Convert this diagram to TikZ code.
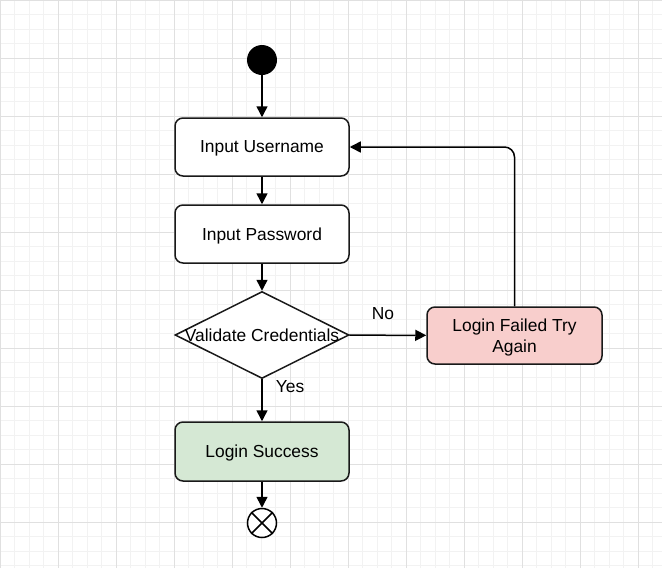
\documentclass[tikz,border=0pt]{standalone}
\usepackage{fontspec}
\setmainfont{Liberation Sans}
\usetikzlibrary{shapes.geometric,arrows.meta}
\definecolor{gridminor}{HTML}{F2F2F2}
\definecolor{gridmajor}{HTML}{E0E0E0}
\definecolor{failfill}{HTML}{F8CECC}
\definecolor{okfill}{HTML}{D5E8D4}
\begin{document}
\begin{tikzpicture}[x=1pt,y=-1pt,
  every node/.style={font=\fontsize{17.4pt}{21pt}\selectfont},
  box/.style={draw=black!90, line width=1.5pt, rounded corners=8pt, minimum width=174pt, minimum height=58pt, inner sep=0pt, align=center, text depth=0pt},
  flow/.style={line width=1.5pt, -{Triangle[width=11pt,length=11pt]}},
  lbl/.style={inner sep=0pt}]
\useasboundingbox (0,0) rectangle (662,568);
\fill[white] (0,0) rectangle (662,568);
% grid
\foreach \i in {0,...,46} {
  \draw[gridminor, line width=1pt] ({\i*14.5},0) -- ({\i*14.5},568);
}
\foreach \j in {0,...,40} {
  \draw[gridminor, line width=1pt] (0,{\j*14.5}) -- (662,{\j*14.5});
}
\foreach \i in {0,...,11} {
  \draw[gridmajor, line width=1pt] ({\i*58},0) -- ({\i*58},568);
}
\foreach \j in {0,...,9} {
  \draw[gridmajor, line width=1pt] (0,{\j*58}) -- (662,{\j*58});
}
% nodes
\node[circle, fill=black, minimum size=30pt, inner sep=0pt] (start) at (262,60) {};
\node[box, fill=white] (user) at (262,147) {Input Username};
\node[box, fill=white] (pass) at (262,234) {Input Password};
\node[diamond, draw=black!90, fill=white, line width=1.5pt, minimum width=174pt, minimum height=87pt, inner sep=0pt, text depth=0pt] (valid) at (262,335) {\makebox[0pt]{Validate Credentials}};
\node[box, fill=failfill, minimum width=175pt, minimum height=57pt] (fail) at (514.5,335.5) {Login Failed Try\\Again};
\node[box, fill=okfill, minimum height=59pt] (ok) at (262,451.5) {Login Success};
\node[circle, draw=black, fill=white, line width=1.5pt, minimum size=29pt, inner sep=0pt] (stop) at (262,523) {};
\draw[line width=1.5pt] (stop.north east) -- (stop.south west) (stop.north west) -- (stop.south east);
\node[lbl] (nolbl) at (383,314) {No};
\node[lbl] (yeslbl) at (290,387) {Yes};
% connectors
\draw[flow] (start) -- (user);
\draw[flow] (user) -- (pass);
\draw[flow] (pass) -- (valid);
\draw[flow] (valid) -- (ok);
\draw[flow] (valid) -- (fail);
\draw[flow] (ok) -- (stop);
\draw[flow, rounded corners=10pt] (fail.north) |- (user.east);
\end{tikzpicture}
\end{document}
